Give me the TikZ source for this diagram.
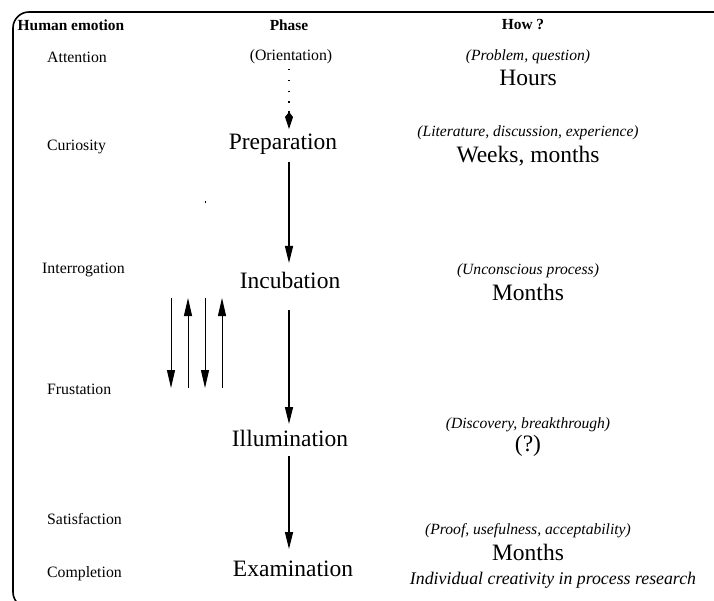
\documentclass[tikz,border=0pt]{standalone}
\usepackage{fontspec}
\setmainfont{Liberation Serif}
\usetikzlibrary{arrows.meta}
\begin{document}
\begin{tikzpicture}[x=1pt,y=-1pt,
  head/.style={font=\fontsize{15.4}{18}\selectfont\bfseries},
  emo/.style={anchor=west,inner sep=0pt,font=\fontsize{15.8}{17}\selectfont},
  small/.style={font=\fontsize{15.8}{17}\selectfont},
  big/.style={font=\fontsize{23.5}{26}\selectfont},
  note/.style={font=\fontsize{15.6}{17}\selectfont\itshape},
  arr/.style={line width=1.3pt,-{Triangle[length=17pt,width=8pt]}},
  side/.style={line width=1pt,-{Triangle[length=18pt,width=8pt]}}]
\useasboundingbox (0,0) rectangle (714,601);
\draw[line width=1.6pt,rounded corners=16pt] (13,12) rectangle (760,608);
% headers
\node[head] (h1) at (71,25) {Human emotion};
\node[head] (h2) at (289,25) {Phase};
\node[head] (h3) at (523,25) {How ?};
% emotions
\node[emo] (e1) at (47,57) {Attention};
\node[emo] (e2) at (47,147) {Curiosity};
\node[emo] (e3) at (42,270) {Interrogation};
\node[emo] (e4) at (47,389) {Frustation};
\node[emo] (e5) at (47,519) {Satisfaction};
\node[emo] (e6) at (47,574) {Completion};
% phases
\node[small] (p0) at (291,57) {(Orientation)};
\node[big] (p1) at (283,144) {Preparation};
\node[big] (p2) at (290,280) {Incubation};
\node[big] (p3) at (290,438) {Illumination};
\node[big] (p4) at (293,569) {Examination};
% how
\node[note] (n1) at (528,57) {(Problem, question)};
\node[big] (t1) at (528,78) {Hours};
\node[note] (n2) at (528,133) {(Literature, discussion, experience)};
\node[big] (t2) at (528,156) {Weeks, months};
\node[note] (n3) at (528,271) {(Unconscious process)};
\node[big] (t3) at (528,292) {Months};
\node[note] (n4) at (528,425) {(Discovery, breakthrough)};
\node[big] (t4) at (528,446) {(?)};
\node[note] (n5) at (528,531) {(Proof, usefulness, acceptability)};
\node[big] (t5) at (528,552) {Months};
\node[note,font=\fontsize{17.8}{20}\selectfont\itshape] (cap) at (553,580) {Individual creativity in process research};
% phase arrows
\coordinate (d0) at (289,69);
\coordinate (d1) at (289,129);
\draw[line width=1.5pt,dash pattern=on 1.3pt off 9.5pt] (d0) -- (289,112);
\draw[line width=1.2pt,-{Kite[length=17pt,width=8pt,inset=5pt]}] (289,111) -- (d1);
\coordinate (a1s) at (289,162); \coordinate (a1e) at (289,263);
\coordinate (a2s) at (289,310); \coordinate (a2e) at (289,424);
\coordinate (a3s) at (289,456); \coordinate (a3e) at (289,549);
\draw[arr] (a1s) -- (a1e);
\draw[arr] (a2s) -- (a2e);
\draw[arr] (a3s) -- (a3e);
% side arrows
\coordinate (s1t) at (171,298); \coordinate (s1b) at (171,388);
\coordinate (s2t) at (188,298); \coordinate (s2b) at (188,388);
\coordinate (s3t) at (205,298); \coordinate (s3b) at (205,388);
\coordinate (s4t) at (222,298); \coordinate (s4b) at (222,388);
\draw[side] (s1t) -- (s1b);
\draw[side] (s2b) -- (s2t);
\draw[side] (s3t) -- (s3b);
\draw[side] (s4b) -- (s4t);
% stray dot
\fill (204.5,201.5) rectangle (206,203);
\end{tikzpicture}
\end{document}
